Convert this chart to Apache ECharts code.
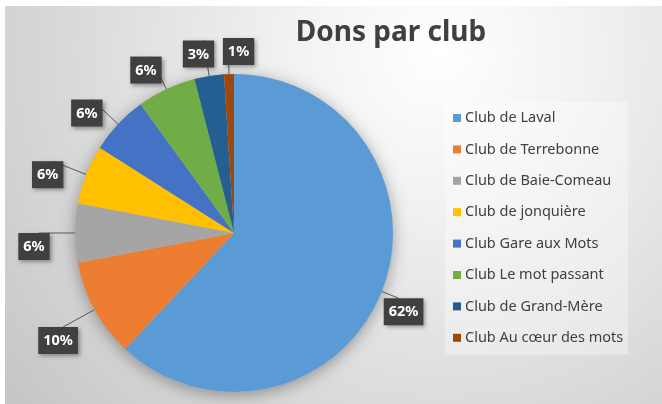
<!DOCTYPE html>
<html style="height: 100%">
<head>
    <meta charset="utf-8">
</head>
<body style="height: 100%; margin: 0; background: #fff">
<div id="container" style="width: 662px; height: 404px"></div>
<script type="text/javascript" src="https://cdn.jsdelivr.net/npm/echarts@6/dist/echarts.min.js"></script>
<script type="text/javascript">
    var dom = document.getElementById("container");
    var myChart = echarts.init(dom);

    // donnees (en %)
    const clubs = ['Club de Laval', 'Club de Terrebonne', 'Club de Baie-Comeau', 'Club de jonquière',
        'Club Gare aux Mots', 'Club Le mot passant', 'Club de Grand-Mère', 'Club Au cœur des mots'];
    const dons = [62, 10, 6, 6, 6, 6, 3, 1];
    const couleurs = ['#5B9BD5', '#ED7D31', '#A5A5A5', '#FFC000', '#4472C4', '#70AD47', '#255E91', '#9E480E'];

    const pieData = [];
    for (let i = 0; i < clubs.length; i++) {
        const item = { name: clubs[i], value: dons[i], itemStyle: { color: couleurs[i] } };
        if (i === 0) {
            item.labelLine = { length: 18 };  // etiquette de la grosse part plus pres
        }
        pieData.push(item);
    }

    const centre = [234, 233];
    const rayon = 159;

    var option = {
        animation: false,
        graphic: [{
            type: 'rect',
            z: -10,
            shape: { x: 5, y: 6, width: 657, height: 398 },
            style: {
                fill: {
                    type: 'radial', x: 0.66, y: 0.12, r: 1.45,
                    colorStops: [
                        { offset: 0, color: '#ffffff' },
                        { offset: 0.25, color: '#f2f2f2' },
                        { offset: 1, color: '#c3c3c3' }
                    ]
                }
            }
        }],
        title: {
            text: 'Dons par club',
            left: 386,
            top: 14,
            textAlign: 'center',
            textStyle: {
                fontFamily: 'Noto Sans',
                fontSize: 28,
                fontWeight: 'bold',
                color: '#404040'
            }
        },
        legend: {
            orient: 'vertical',
            left: 445,
            top: 102,
            data: clubs,
            icon: 'rect',
            itemWidth: 8,
            itemHeight: 8,
            itemGap: 15.4,
            padding: [8, 5, 9, 8],
            backgroundColor: 'rgba(255,255,255,0.35)',
            textStyle: {
                fontFamily: 'Noto Sans',
                fontSize: 14.5,
                lineHeight: 16,
                color: '#404040',
                padding: [0, 0, 0, -1]
            }
        },
        series: [
            {
                // ombre sous la tarte
                type: 'pie',
                silent: true,
                z: 1,
                center: centre,
                radius: rayon,
                startAngle: 90,
                label: { show: false },
                labelLine: { show: false },
                data: [{ value: 1, itemStyle: { color: '#bdbdbd' } }],
                itemStyle: {
                    shadowBlur: 16,
                    shadowColor: 'rgba(0,0,0,0.35)',
                    shadowOffsetY: 3
                }
            },
            {
                name: 'Dons',
                type: 'pie',
                z: 2,
                center: centre,
                radius: rayon,
                startAngle: 90,
                clockwise: true,
                avoidLabelOverlap: false,
                percentPrecision: 0,
                data: pieData,
                label: {
                    show: true,
                    position: 'outside',
                    formatter: '{d}%',
                    fontFamily: 'Noto Sans',
                    fontSize: 14.5,
                    fontWeight: 'bold',
                    color: '#ffffff',
                    backgroundColor: '#404040',
                    padding: [5, 5, 4, 5],
                    lineHeight: 18,
                    shadowBlur: 4,
                    shadowColor: 'rgba(0,0,0,0.35)',
                    shadowOffsetX: 2,
                    shadowOffsetY: 2
                },
                labelLine: {
                    show: true,
                    length: 36,
                    length2: 0,
                    smooth: false,
                    lineStyle: { color: '#595959', width: 1 }
                },
                labelLayout: function (p) {
                    return {
                        align: p.dataIndex === dons.length - 1 ? 'left' : 'center',
                        verticalAlign: 'top'
                    };
                }
            }
        ]
    };

    myChart.setOption(option);
</script>
</body>
</html>
